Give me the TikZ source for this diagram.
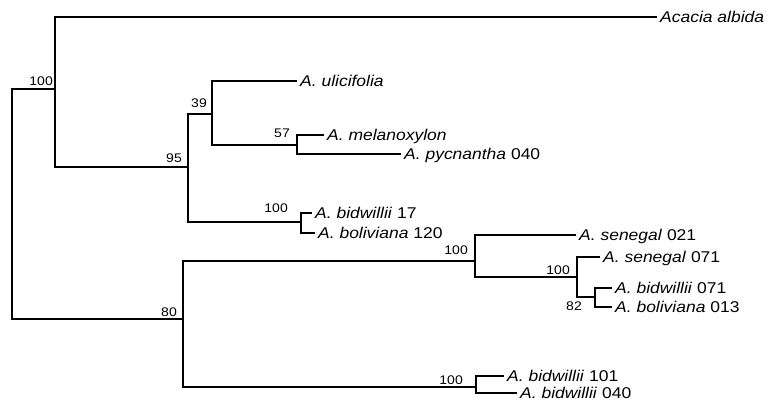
\documentclass[tikz,border=0pt]{standalone}
\usepackage{fontspec}
\setmainfont{Liberation Sans}[FakeStretch=1.12]
\usetikzlibrary{positioning}

\begin{document}
\begin{tikzpicture}[
  x=1pt, y=-1pt,
  branch/.style={line width=1.2pt},
  taxon/.style={anchor=west, inner xsep=3pt, inner ysep=0pt,
                text height=11pt, text depth=0pt,
                font=\fontsize{15.6}{17}\selectfont},
  boot/.style={inner sep=1pt, font=\fontsize{12.5}{13}\selectfont}
]
\useasboundingbox (0,0) rectangle (770,414);

%% Internal nodes (clades)
\coordinate (root)  at (12,200);
\coordinate (n100a) at (55,89);
\coordinate (n95)   at (188,167);
\coordinate (n39)   at (212,114);
\coordinate (n57)   at (297,145);
\coordinate (n100b) at (301,222);
\coordinate (n80)   at (183,319);
\coordinate (n100c) at (475,261);
\coordinate (n100e) at (577,277);
\coordinate (n82)   at (595,297);
\coordinate (n100d) at (476,387);

%% Taxa
\node[taxon] (albida)  at (657,17)  {\textit{Acacia albida}};
\node[taxon] (ulici)   at (297,81)  {\textit{A. ulicifolia}};
\node[taxon] (melano)  at (324,135) {\textit{A. melanoxylon}};
\node[taxon] (pycn)    at (401,154) {\textit{A. pycnantha} 040};
\node[taxon] (bid17)   at (312,213) {\textit{A. bidwillii} 17};
\node[taxon] (bol120)  at (315,233) {\textit{A. boliviana} 120};
\node[taxon] (sen021)  at (576,235) {\textit{A. senegal} 021};
\node[taxon] (sen071)  at (600,257) {\textit{A. senegal} 071};
\node[taxon] (bid071)  at (612,288) {\textit{A. bidwillii} 071};
\node[taxon] (bol013)  at (612,307) {\textit{A. boliviana} 013};
\node[taxon] (bid101)  at (504,376) {\textit{A. bidwillii} 101};
\node[taxon] (bid040)  at (517,393) {\textit{A. bidwillii} 040};

%% Branches
\draw[branch] (root)  |- (n100a);
\draw[branch] (root)  |- (n80);
\draw[branch] (n100a) |- (albida.west);
\draw[branch] (n100a) |- (n95);
\draw[branch] (n95)   |- (n39);
\draw[branch] (n95)   |- (n100b);
\draw[branch] (n39)   |- (ulici.west);
\draw[branch] (n39)   |- (n57);
\draw[branch] (n57)   |- (melano.west);
\draw[branch] (n57)   |- (pycn.west);
\draw[branch] (n100b) |- (bid17.west);
\draw[branch] (n100b) |- (bol120.west);
\draw[branch] (n80)   |- (n100c);
\draw[branch] (n80)   |- (n100d);
\draw[branch] (n100c) |- (sen021.west);
\draw[branch] (n100c) |- (n100e);
\draw[branch] (n100e) |- (sen071.west);
\draw[branch] (n100e) |- (n82);
\draw[branch] (n82)   |- (bid071.west);
\draw[branch] (n82)   |- (bol013.west);
\draw[branch] (n100d) |- (bid101.west);
\draw[branch] (n100d) |- (bid040.west);

%% Bootstrap values
\node[boot, above left, xshift=-1pt, yshift=2pt]  (s100a) at (n100a) {100};
\node[boot, above left, xshift=-5pt, yshift=3pt]  (s95)   at (n95)   {95};
\node[boot, above left, xshift=-4pt, yshift=5pt]  (s39)   at (n39)   {39};
\node[boot, above left, xshift=-6pt, yshift=6pt]  (s57)   at (n57)   {57};
\node[boot, above left, xshift=-12pt, yshift=8pt] (s100b) at (n100b) {100};
\node[boot, above left, xshift=-5pt, yshift=1pt]  (s80)   at (n80)   {80};
\node[boot, above left, xshift=-6pt, yshift=5pt]  (s100c) at (n100c) {100};
\node[boot, above left, xshift=-6pt, yshift=1pt]  (s100e) at (n100e) {100};
\node[boot, below left, xshift=-12pt, yshift=-4pt] (s82)  at (n82)   {82};
\node[boot, above left, xshift=-12pt, yshift=1pt] (s100d) at (n100d) {100};

\end{tikzpicture}
\end{document}
